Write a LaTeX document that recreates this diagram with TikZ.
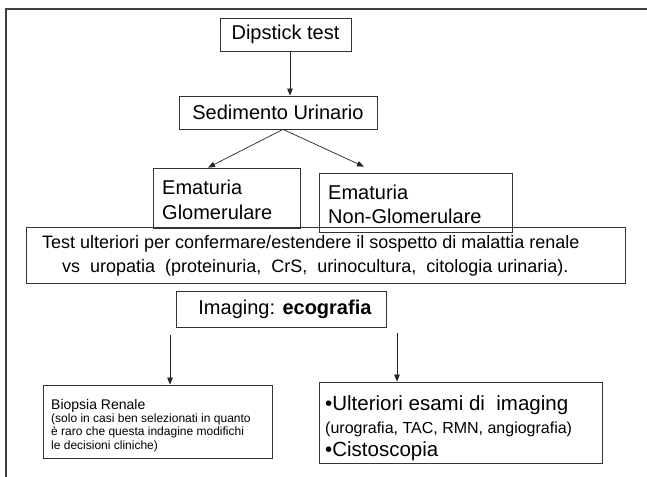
\documentclass[tikz,border=0pt]{standalone}
\usepackage{fontspec}
\setmainfont{Liberation Sans}
\usetikzlibrary{arrows.meta}
\begin{document}
\begin{tikzpicture}[x=1pt,y=-1pt,
  box/.style={draw=black!80, line width=0.75pt, rectangle, inner sep=0pt},
  arr/.style={draw=black!85, line width=0.7pt, -{Triangle[length=7pt,width=5.5pt]}},
  fL/.style={font=\fontsize{20}{25}\selectfont},
  txt/.style={inner sep=0pt, align=left}]
\useasboundingbox (0,0) rectangle (647,476);
\begin{scope}
\clip (0,0) rectangle (647,476);
\draw[black!75, line width=1.6pt] (6,490) -- (6,9) -- (660,9);
\end{scope}

% boxes
\node[box, fL, minimum width=131pt, minimum height=33pt] (dip) at (285.5,34.5) {Dipstick test};
\node[box, fL, minimum width=198pt, minimum height=33pt] (sed) at (278,112.5) {Sedimento Urinario};
\node[box, minimum width=147pt, minimum height=60pt] (glo) at (226.5,198) {};
\node[txt, fL, anchor=base west] (glot) at (162,219) {Ematuria\\Glomerulare};
\node[box, minimum width=193pt, minimum height=59pt] (ngl) at (415.5,202.5) {};
\node[txt, font=\fontsize{20}{24}\selectfont, anchor=base west] (nglt) at (328,223) {Ematuria\\Non-Glomerulare};
\node[box, minimum width=599pt, minimum height=56pt] (tst) at (325.5,255) {};
\node[txt, font=\fontsize{18}{24}\selectfont, anchor=base west] (tstt) at (42,272)
  {Test ulteriori per confermare/estendere il sospetto di malattia renale\\
   \hspace*{20pt}vs\ \ uropatia\ \ (proteinuria,\ \ CrS,\ \ urinocultura,\ \ citologia urinaria).};
\node[box, fL, minimum width=210pt, minimum height=36pt] (img) at (281,309) {\hspace*{8pt}Imaging: \textbf{ecografia}};
\node[box, minimum width=229pt, minimum height=73pt] (bio) at (157.5,421.5) {};
\node[txt, font=\fontsize{12}{13.3}\selectfont, anchor=base west] (biot) at (51,449)
  {{\fontsize{14}{13.3}\selectfont Biopsia Renale}\\
   (solo in casi ben selezionati in quanto\\
   è raro che questa indagine modifichi\\
   le decisioni cliniche)};
\node[box, minimum width=283pt, minimum height=81pt] (ult) at (460.5,422.5) {};
\node[txt, font=\fontsize{20.5}{23}\selectfont, anchor=base west] (ultt) at (325,456)
  {•Ulteriori esami di\ \ imaging\\
   {\fontsize{16}{23}\selectfont (urografia, TAC, RMN, angiografia)}\\
   •Cistoscopia};

% connectors
\coordinate (la) at (170,335);
\coordinate (ra) at (397,333);
\draw[arr] ([xshift=4.5pt]dip.south) -- ([xshift=12pt]sed.north);
\draw[arr] ([xshift=5pt]sed.south) -- ([xshift=-18.5pt]glo.north);
\draw[arr] ([xshift=5pt]sed.south) -- ([xshift=-51.5pt,yshift=6pt]ngl.north);
\draw[arr] (la) -- (la |- bio.north);
\draw[arr] (ra) -- (ra |- ult.north);
\end{tikzpicture}
\end{document}
